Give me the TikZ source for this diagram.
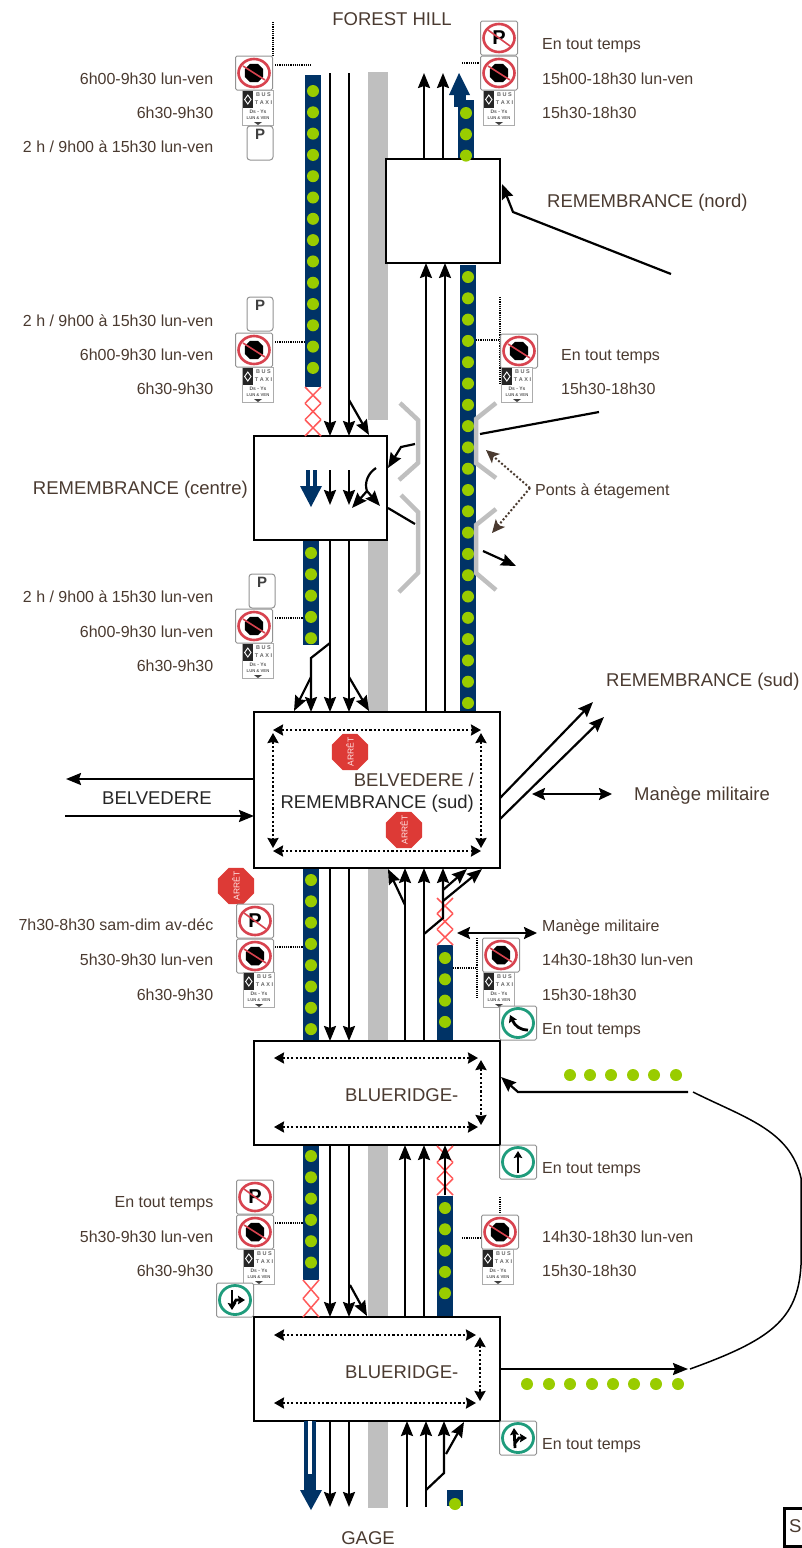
\documentclass[tikz,border=0pt]{standalone}
\usepackage{fontspec}
\setmainfont{Liberation Sans}
\usepackage{tikz}
\usetikzlibrary{shapes.geometric, arrows.meta, positioning}
\definecolor{textbrown}{HTML}{4a3a30}
\definecolor{busnavy}{HTML}{003366}
\definecolor{busdot}{HTML}{99cc00}
\definecolor{mediangrey}{HTML}{bfbfbf}
\definecolor{stopred}{HTML}{dd3a36}
\definecolor{ringred}{HTML}{d8434f}
\definecolor{ringgreen}{HTML}{1f9c7c}

\tikzset{
    signbox/.style={draw=gray!85, fill=white, rounded corners=1.5pt, line width=1pt,
                    minimum width=37pt, minimum height=34pt, inner sep=0pt},
    signarrow/.style={line width=2.8pt, -{Stealth[length=7pt, width=8.5pt, inset=1pt]}}
}
% no stopping disc
\newcommand{\nostop}[2]{
    \begin{scope}[shift={(#2)}]
        \node[signbox] (#1) at (0,0) {};
        \node[regular polygon, regular polygon sides=8, fill=black, minimum size=20pt,
              inner sep=0pt] (#1oct) at (0,0) {};
        \draw[ringred, line width=1.6pt] (-11,-7) -- (11,7);
        \draw[ringred, line width=2.6pt] (0,0) ellipse (15.5 and 14);
    \end{scope}
}
% no parking disc
\newcommand{\nopark}[2]{
    \begin{scope}[shift={(#2)}]
        \node[signbox] (#1) at (0,0) {};
        \node[font=\fontsize{20}{20}\selectfont\bfseries, inner sep=0pt] (#1p) at (0,0) {P};
        \draw[ringred, line width=1.6pt] (-11,-8) -- (11,8);
        \draw[ringred, line width=2.6pt] (0,0) ellipse (15.5 and 14);
    \end{scope}
}
% parking plate
\newcommand{\pplate}[2]{
    \begin{scope}[shift={(#2)}]
        \node[signbox, rounded corners=3pt, minimum width=26pt, minimum height=34pt] (#1) at (0,0) {};
        \node[font=\fontsize{15}{15}\selectfont\bfseries, text=black!75, inner sep=0pt] (#1p) at (0,-9) {P};
    \end{scope}
}
% bus and taxi plate
\newcommand{\busplate}[2]{
    \begin{scope}[shift={(#2)}]
        \node[draw=gray!65, fill=white, minimum width=31pt, minimum height=35pt, inner sep=0pt] (#1) at (0,0) {};
        \fill[black!85] (-15.5,-17.5) rectangle (-5,0);
        \draw[white, line width=0.9pt] (-10.2,-13) -- (-7,-8.5) -- (-10.2,-4) -- (-13.4,-8.5) -- cycle;
        \node[font=\fontsize{5.5}{5.5}\selectfont\bfseries, text=black!60, inner sep=0pt] (#1a) at (5.5,-13) {B U S};
        \node[font=\fontsize{5.5}{5.5}\selectfont\bfseries, text=black!60, inner sep=0pt] (#1b) at (5.5,-5) {T A X I};
        \node[font=\fontsize{5}{5}\selectfont\bfseries, text=black!65, inner sep=0pt] (#1c) at (0,4) {Ds - Ys};
        \node[font=\fontsize{4.2}{4.2}\selectfont\bfseries, text=black!65, inner sep=0pt] (#1d) at (0,10) {LUN \& VEN};
        \fill[black!75] (-4,14) -- (4,14) -- (0,17) -- cycle;
    \end{scope}
}
% round green sign, the arrow comes as third argument
\newcommand{\turnsign}[3]{
    \begin{scope}[shift={(#2)}]
        \node[signbox] (#1) at (0,0) {};
        \draw[ringgreen, line width=2.8pt] (0,0) ellipse (15.5 and 14.5);
        #3
    \end{scope}
}
% stop sign, the word on a node of its own
\newcommand{\stoparret}[2]{
    \node[regular polygon, regular polygon sides=8, fill=stopred, minimum size=39pt,
          inner sep=0pt] (#1) at (#2) {};
    \node[text=white!90!red, font=\fontsize{8.5}{8.5}\selectfont, inner sep=0pt, rotate=90] (#1t) at (#2) {ARRÊT};
}
% red crosses over a closed lane
\newcommand{\crosszone}[5]{
    \pgfmathsetmacro{\cellh}{(#4-#2)/#5}
    \foreach \n in {1,...,#5} {
        \draw[red!65, line width=1.5pt] (#1,{#2+(\n-1)*\cellh}) -- (#3,{#2+\n*\cellh});
        \draw[red!65, line width=1.5pt] (#3,{#2+(\n-1)*\cellh}) -- (#1,{#2+\n*\cellh});
    }
}

\begin{document}
\begin{tikzpicture}[
    x=1pt, y=-1pt,
    junction/.style={draw, fill=white, line width=2pt, minimum height=#1, outer sep=0pt, inner sep=0pt},
    lane/.style={line width=2.2pt, -{Stealth[length=15pt, width=12pt, inset=2pt]}},
    plainlane/.style={line width=2.2pt},
    dualarrow/.style={line width=2.2pt, {Stealth[length=13pt, width=12pt, inset=2pt]}-{Stealth[length=13pt, width=12pt, inset=2pt]}},
    turnring/.style={line width=2.5pt, dash pattern=on 2.2pt off 2.2pt,
                     {Stealth[length=10pt, width=11pt, inset=1pt]}-{Stealth[length=10pt, width=11pt, inset=1pt]}},
    leader/.style={line width=1.1pt, dash pattern=on 1.2pt off 1pt},
    bridge/.style={mediangrey, line width=4.5pt},
    lbl/.style={text=textbrown, font=\fontsize{16}{18}\selectfont, inner sep=0pt, text height=11.5pt, text depth=0pt},
    biglbl/.style={text=textbrown, font=\fontsize{18.5}{20}\selectfont, inner sep=0pt, text height=13pt, text depth=0pt}
]
    \useasboundingbox (0,0) rectangle (801,1548);

    % lane lines and ends
    \coordinate (ls1) at (330,0);
    \coordinate (ls2) at (349,0);
    \coordinate (lu1) at (405,0);
    \coordinate (lu2) at (424,0);
    \coordinate (lu3) at (443,0);
    \coordinate (lt1) at (426,0);
    \coordinate (lt2) at (445,0);
    \coordinate (fh) at (0,73);
    \coordinate (ga) at (0,1507);

    % median
    \fill[mediangrey] (368,72) rectangle (388,420);
    \fill[mediangrey] (368,540) rectangle (388,1508);

    % bus lanes
    \fill[busnavy] (305,75) rectangle (321,387);
    \fill[busnavy] (303,540) rectangle (319,645);
    \fill[busnavy] (303,868) rectangle (319,1041);
    \fill[busnavy] (303,1145) rectangle (319,1280);
    \fill[busnavy] (458,100) rectangle (474,159);
    \fill[busnavy] (454,95) rectangle (466,107);
    \fill[busnavy] (459,73) -- (470,95) -- (449,95) -- cycle;
    \fill[busnavy] (460,265) rectangle (476,714);
    \fill[busnavy] (437,945) rectangle (453,1041);
    \fill[busnavy] (437,1196) rectangle (453,1317);
    \fill[busnavy] (447,1490) rectangle (463,1506);

    % junctions
    \node[junction=104pt, minimum width=114pt] (remn) at (443,211) {};
    \node[junction=104pt, minimum width=133pt] (remc) at (320.5,488) {};
    \node[junction=156pt, minimum width=246pt] (belv) at (377,790) {};
    \node[junction=104pt, minimum width=246pt, below=173pt of belv] (blue1) {};
    \node[junction=104pt, minimum width=246pt, below=172pt of blue1] (blue2) {};

    % bus lane dots
    \foreach \n in {0,...,13} \fill[busdot] (313,{91+21.3*\n}) circle (6);
    \foreach \n in {0,...,4} \fill[busdot] (311,{553+21.3*\n}) circle (6);
    \foreach \n in {0,...,7} \fill[busdot] (311,{880+21.3*\n}) circle (6);
    \foreach \n in {0,...,5} \fill[busdot] (311,{1156+21.3*\n}) circle (6);
    \foreach \n in {0,...,2} \fill[busdot] (466,{113+21.3*\n}) circle (6);
    \foreach \n in {0,...,20} \fill[busdot] (468,{277+21.3*\n}) circle (6);
    \foreach \n in {0,...,3} \fill[busdot] (445,{958+21.3*\n}) circle (6);
    \foreach \n in {0,...,4} \fill[busdot] (445,{1208+21.3*\n}) circle (6);
    \fill[busdot] (455,1504) circle (6);
    \foreach \xx in {570,590,611,633,654,676} \fill[busdot] (\xx,1075) circle (6);
    \foreach \xx in {527,549,570,592,613,634,656,678} \fill[busdot] (\xx,1384) circle (6);

    % closed stretches
    \crosszone{305}{387}{321}{436}{3}
    \crosszone{303}{1280}{319}{1317}{2}
    \crosszone{437}{898}{453}{945}{3}
    \crosszone{437}{1146}{453}{1195}{3}

    % southbound lanes
    \foreach \ll in {ls1,ls2} {
        \draw[lane] (\ll |- fh) -- (\ll |- remc.north);
        \draw[lane] (\ll |- remc.south) -- (\ll |- belv.north);
        \draw[lane] (\ll |- belv.south) -- (\ll |- blue1.north);
        \draw[lane] (\ll |- blue1.south) -- (\ll |- blue2.north);
        \draw[lane] (\ll |- blue2.south) -- (\ll |- ga);
    }
    \coordinate (sb1) at (349,400);
    \coordinate (sb1t) at (369,435);
    \draw[lane] (sb1) -- (sb1t);
    \coordinate (sb2) at (330,643);
    \coordinate (sb2k) at (311,658);
    \coordinate (sb2m) at (311,677);
    \draw[lane] (sb2) -- (sb2k) -- (sb2k |- belv.north);
    \coordinate (sb2t) at (294,711);
    \draw[lane] (sb2m) -- (sb2t);
    \coordinate (sb3) at (349,677);
    \coordinate (sb3t) at (369,711);
    \draw[lane] (sb3) -- (sb3t);
    \coordinate (sb4) at (350,1285);
    \coordinate (sb4t) at (367,1316);
    \draw[lane] (sb4) -- (sb4t);

    % northbound lanes
    \foreach \ll in {lu1,lu2} {
        \draw[lane] (\ll |- blue1.north) -- (\ll |- belv.south);
        \draw[lane] (\ll |- blue2.north) -- (\ll |- blue1.south);
    }
    \foreach \ll in {lt1,lt2} {
        \draw[lane] (\ll |- belv.north) -- (\ll |- remn.south);
    }
    \draw[lane] (lu2 |- remn.north) -- (lu2 |- fh);
    \draw[lane] (lu3 |- remn.north) -- (lu3 |- fh);
    \coordinate (nb1) at (424,934);
    \coordinate (nb1k) at (443,918);
    \draw[lane] (nb1) -- (nb1k) -- (nb1k |- belv.south);
    \coordinate (nb2) at (443,890);
    \coordinate (nb2t) at (467,869);
    \draw[lane] (nb2) -- (nb2t);
    \coordinate (nb3) at (443,901);
    \coordinate (nb3t) at (482,869);
    \draw[lane] (nb3) -- (nb3t);
    \coordinate (nb4) at (405,905);
    \coordinate (nb4t) at (388,869);
    \draw[lane] (nb4) -- (nb4t);
    \coordinate (nb5) at (445,1195);
    \draw[lane] (nb5) -- (nb5 |- blue1.south);
    \coordinate (gu1) at (407,1507);
    \coordinate (gu2) at (426,1507);
    \draw[lane] (gu1) -- (gu1 |- blue2.south);
    \draw[lane] (gu2) -- (gu2 |- blue2.south);
    \coordinate (gu3) at (426,1490);
    \coordinate (gu3k) at (444,1473);
    \draw[lane] (gu3) -- (gu3k) -- (gu3k |- blue2.south);
    \coordinate (gu4) at (446,1454);
    \coordinate (gu4t) at (464,1422);
    \draw[lane] (gu4) -- (gu4t);

    % bus arrows, south end and in the centre junction
    \fill[busnavy] (304,1421) rectangle (316,1490);
    \fill[white] (308,1421) rectangle (311.5,1474);
    \fill[busnavy] (311,1510) -- (300,1490) -- (322,1490) -- cycle;
    \fill[busnavy] (306,470) rectangle (317,487);
    \fill[white] (310,470) rectangle (312.5,487);
    \fill[busnavy] (311,507) -- (300,486) -- (322,486) -- cycle;

    % arrows in the centre junction
    \coordinate (ci) at (0,470);
    \coordinate (co) at (0,505);
    \draw[lane] (ls1 |- ci) -- (ls1 |- co);
    \draw[lane] (ls2 |- ci) -- (ls2 |- co);
    \coordinate (fk) at (367,491);
    \coordinate (fk0) at (376,468);
    \coordinate (fk1) at (352,508);
    \coordinate (fk2) at (380,506);
    \draw[plainlane] (fk0) .. controls (368,473) and (364,483) .. (fk);
    \draw[lane] (fk) -- (fk1);
    \draw[lane] (fk) -- (fk2);

    % bridges
    \draw[bridge] (400,403) -- (418,420) -- (418,463) -- (399,480);
    \draw[bridge] (401,495) -- (418,512) -- (418,573) -- (399,592);
    \draw[bridge] (496,403) -- (476,419) -- (476,463) -- (496,478);
    \draw[bridge] (496,509) -- (476,525) -- (476,573) -- (496,590);

    % side streets
    \coordinate (rn0) at (671,274);
    \coordinate (rn1) at (513,212);
    \coordinate (rn2) at (502,184);
    \draw[lane] (rn0) -- (rn1) -- (rn2);
    \coordinate (rc0) at (415,444);
    \coordinate (rc1) at (401,447);
    \coordinate (rc2) at (388,468);
    \draw[lane] (rc0) -- (rc1) -- (rc2);
    \coordinate (rc3) at (388,508);
    \coordinate (rc4) at (415,524);
    \draw[plainlane] (rc3) -- (rc4);
    \coordinate (re0) at (480,434);
    \coordinate (re1) at (599,412);
    \draw[plainlane] (re0) -- (re1);
    \coordinate (re2) at (483,551);
    \coordinate (re3) at (516,566);
    \draw[lane] (re2) -- (re3);

    % Belvedere
    \coordinate (bw0) at (66,779);
    \coordinate (bw1) at (65,816);
    \draw[lane] (bw0 -| belv.west) -- (bw0);
    \draw[lane] (bw1) -- (bw1 -| belv.west);
    \coordinate (be0) at (500,798);
    \coordinate (be1) at (593,702);
    \coordinate (be2) at (500,819);
    \coordinate (be3) at (604,717);
    \draw[lane] (be0) -- (be1);
    \draw[lane] (be2) -- (be3);
    \coordinate (mm0) at (532,794);
    \coordinate (mm1) at (612,794);
    \draw[dualarrow] (mm0) -- (mm1);
    \coordinate (mm2) at (457,933);
    \coordinate (mm3) at (537,933);
    \draw[dualarrow] (mm2) -- (mm3);

    % Blueridge links
    \coordinate (bl0) at (688,1092);
    \coordinate (bl1) at (518,1092);
    \coordinate (bl2) at (501,1077);
    \draw[lane] (bl0) -- (bl1) -- (bl2);
    \coordinate (bl3) at (688,1369);
    \draw[lane] (bl3 -| blue2.east) -- (bl3);
    \coordinate (cv0) at (693,1092);
    \coordinate (cv1) at (801,1178);
    \coordinate (cv2) at (801,1265);
    \coordinate (cv3) at (690,1369);
    \draw[line width=1.5pt] (cv0) .. controls (745,1118) and (790,1130) .. (cv1) -- (cv2)
        .. controls (798,1320) and (770,1340) .. (cv3);

    % turning movements
    \draw[turnring] (273,730) -- (481,730);
    \draw[turnring] (273,851) -- (481,851);
    \draw[turnring] (273,733) -- (273,848);
    \draw[turnring] (481,733) -- (481,848);
    \draw[turnring] (274,1058) -- (478,1058);
    \draw[turnring] (274,1127) -- (478,1127);
    \draw[turnring] (481,1060) -- (481,1125);
    \draw[turnring] (274,1335) -- (476,1335);
    \draw[turnring] (274,1403) -- (476,1403);
    \draw[turnring] (480,1337) -- (480,1401);

    % signs, west side
    \draw[leader] (273,22) -- (273,56);
    \draw[leader] (275,65) -- (311,65);
    \nostop{sa1}{254,73}
    \busplate{sa2}{258,108}
    \pplate{sa3}{260,143}
    \draw[leader] (275,342) -- (305,342);
    \pplate{sb1s}{260,314}
    \nostop{sb2s}{254,350}
    \busplate{sb3s}{258,385}
    \draw[leader] (275,618) -- (303,618);
    \pplate{sc1}{262,591}
    \nostop{sc2}{254,626}
    \busplate{sc3}{258,661}
    \stoparret{stop3}{236,886}
    \draw[leader] (275,947) -- (303,947);
    \nopark{sd1}{255,921}
    \nostop{sd2}{255,956}
    \busplate{sd3}{259,990}
    \draw[leader] (275,1223) -- (303,1223);
    \nopark{se1}{255,1197}
    \nostop{se2}{255,1232}
    \busplate{se3}{259,1267}
    \turnsign{se4}{235,1300}{
        \draw[signarrow] (-3,-10) -- (-3,10);
        \draw[signarrow] (-2,5) -- (1,0) -- (10,0);
    }

    % signs, east side
    \draw[leader] (462,63) -- (480,63);
    \nopark{na1}{499,38}
    \nostop{na2}{499,73}
    \busplate{na3}{499,108}
    \draw[leader] (500,297) -- (500,383);
    \draw[leader] (476,340) -- (500,340);
    \nostop{nb1s}{519,351}
    \busplate{nb2s}{517,385}
    \draw[leader] (477,938) -- (477,998);
    \draw[leader] (453,968) -- (477,968);
    \nostop{nc1}{501,955}
    \busplate{nc2}{499,990}
    \turnsign{nc3}{518,1023}{
        \draw[signarrow] (10,7) .. controls (2,7) and (-3,3) .. (-8,-8);
    }
    \turnsign{nd1}{518,1162}{
        \draw[signarrow] (0,11) -- (0,-11);
    }
    \draw[leader] (500,1197) -- (500,1213);
    \draw[leader] (462,1238) -- (481,1238);
    \nostop{ne1}{500,1232}
    \busplate{ne2}{498,1267}
    \turnsign{ne3}{518,1438}{
        \draw[signarrow] (-3,10) -- (-4,-10);
        \draw[signarrow] (-3,5) -- (1,0) -- (9,0);
    }

    % stop signs in the big junction
    \stoparret{stop1}{350,752}
    \stoparret{stop2}{404,830}

    % dotted arrows to the bridges
    \coordinate (pt0) at (530,488);
    \coordinate (pt1) at (486,450);
    \coordinate (pt2) at (492,533);
    \draw[textbrown, line width=2pt, dash pattern=on 2pt off 2pt, -{Stealth[length=13pt, width=12pt, inset=3pt]}] (pt0) -- (pt1);
    \draw[textbrown, line width=2pt, dash pattern=on 2pt off 2pt, -{Stealth[length=13pt, width=12pt, inset=3pt]}] (pt0) -- (pt2);

    % street names
    \node[biglbl] (fhill) at (392,19) {FOREST HILL};
    \node[biglbl] (gage) at (368,1538) {GAGE};
    \node[biglbl, anchor=west] (remnl) at (547,201) {REMEMBRANCE (nord)};
    \node[biglbl, anchor=east] (remcl) at (248,488) {REMEMBRANCE (centre)};
    \node[biglbl, anchor=west] (remsl) at (606,680) {REMEMBRANCE (sud)};
    \node[biglbl, text=black!85] (belvl) at (157,798) {BELVEDERE};
    \node[biglbl, anchor=east] (belvt) at (474,780) {BELVEDERE /};
    \node[biglbl, text=black!85, anchor=east] (belvb) at (474,802) {REMEMBRANCE (sud)};
    \node[biglbl, anchor=west] (manl) at (634,794) {Manège militaire};
    \node[biglbl, anchor=west] (blue1l) at (345,1095) {BLUERIDGE-};
    \node[biglbl, anchor=west] (blue2l) at (345,1372) {BLUERIDGE-};
    \node[lbl, anchor=west] (pontl) at (535,490) {Ponts à étagement};

    % sign hours
    \foreach \yy/\txt [count=\n] in {79/6h00-9h30 lun-ven, 113/6h30-9h30, 147/{2 h / 9h00 à 15h30 lun-ven},
                                     321/{2 h / 9h00 à 15h30 lun-ven}, 355/6h00-9h30 lun-ven, 389/6h30-9h30,
                                     597/{2 h / 9h00 à 15h30 lun-ven}, 632/6h00-9h30 lun-ven, 666/6h30-9h30,
                                     925/7h30-8h30 sam-dim av-déc, 960/5h30-9h30 lun-ven, 995/6h30-9h30,
                                     1202/En tout temps, 1237/5h30-9h30 lun-ven, 1271/6h30-9h30}
        \node[lbl, anchor=east] (hw\n) at (213.5,\yy) {\txt};
    \foreach \xx/\yy/\txt [count=\n] in {542/44/En tout temps, 542/79/15h00-18h30 lun-ven, 542/113/15h30-18h30,
                                         561/355/En tout temps, 561/389/15h30-18h30,
                                         542/926/Manège militaire, 542/960/14h30-18h30 lun-ven, 542/995/15h30-18h30,
                                         542/1029/En tout temps, 542/1168/En tout temps,
                                         542/1237/14h30-18h30 lun-ven, 542/1271/15h30-18h30, 542/1444/En tout temps}
        \node[lbl, anchor=west] (he\n) at (\xx,\yy) {\txt};

    % cut-off box, bottom right
    \draw[line width=3pt] (810,1508) -- (784,1508) -- (784,1546) -- (810,1546);
    \node[biglbl, anchor=west] (cutl) at (789,1526) {S};
\end{tikzpicture}
\end{document}
